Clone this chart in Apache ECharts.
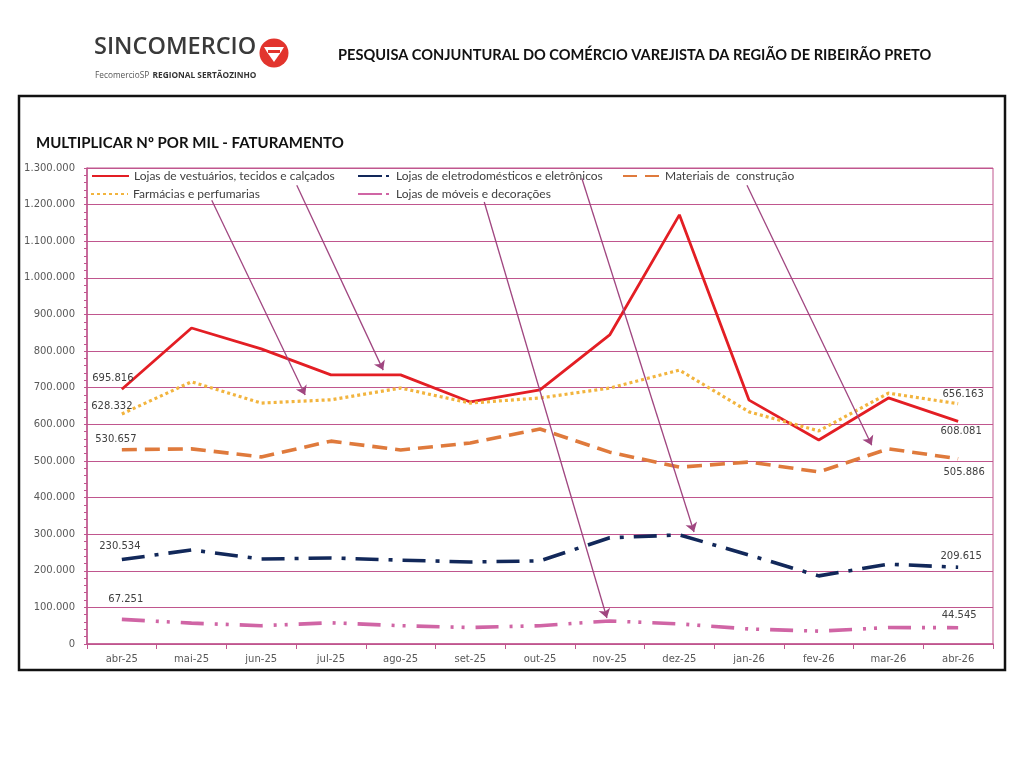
<!DOCTYPE html>
<html><head><meta charset="utf-8">
<script src="https://cdn.jsdelivr.net/npm/echarts@6/dist/echarts.min.js"></script>
<style>html,body{margin:0;padding:0;background:#fff}#c{width:1024px;height:768px}</style>
</head><body><div id="c"></div>
<script>
// ---- data ----
const months = ['abr-25','mai-25','jun-25','jul-25','ago-25','set-25','out-25','nov-25','dez-25','jan-26','fev-26','mar-26','abr-26'];
const seriesNames = ['Lojas de vestuários, tecidos e calçados','Lojas de eletrodomésticos e eletrônicos','Materiais de  construção','Farmácias e perfumarias','Lojas de móveis e decorações'];
const vestuario = [695816, 863000, 806000, 735000, 735000, 661000, 694000, 844000, 1172000, 666000, 557000, 672000, 608081];
const eletro    = [230534, 257000, 232000, 235000, 229000, 224000, 227000, 290000, 298000, 243000, 186000, 218000, 209615];
const materiais = [530657, 533000, 511000, 554000, 530000, 549000, 587000, 524000, 483000, 497000, 470000, 533000, 505886];
const farmacias = [628332, 716000, 658000, 667000, 699000, 658000, 672000, 699000, 748000, 634000, 582000, 685000, 656163];
const moveis    = [67251, 57000, 50000, 58000, 50000, 45000, 50000, 63000, 55000, 41000, 35000, 45000, 44545];
// annotation arrows: [startCategoryPos, startValue, endCategoryPos, endValue]
const arrowRefs = [
  [1.29, 1212000, 2.63, 680000],
  [2.51, 1253000, 3.75, 748000],
  [5.20, 1207000, 6.96, 71000],
  [6.60, 1272000, 8.21, 306000],
  [8.97, 1253000, 10.76, 543000]
];

function fmt(v){ return String(Math.round(v)).replace(/\B(?=(\d{3})+(?!\d))/g,'.'); }

const GRIDC = '#C0568E';
const LBL = {fontFamily:'DejaVu Sans', fontSize:10, color:'#404040'};

function withLabels(arr, first, last){
  return arr.map((v,i)=>{
    if(i===0) return {value:v, label:Object.assign({show:true, formatter:p=>fmt(p.value)}, LBL, first)};
    if(i===arr.length-1) return {value:v, label:Object.assign({show:true, formatter:p=>fmt(p.value)}, LBL, last)};
    return v;
  });
}

const styles = [
  {data:vestuario, color:'#E31E24', type:'solid', width:2.8, first:{position:'top', offset:[-9,-1]}, last:{position:'bottom', offset:[3,0]}},
  {data:eletro, color:'#12285A', type:[23,10,4,10], width:3.6, first:{position:'top', offset:[-2,-3]}, last:{position:'top', offset:[3,-1]}},
  {data:materiais, color:'#DF7A3C', type:[15,8], width:3.6, first:{position:'top', offset:[-6,0]}, last:{position:'bottom', offset:[6,4]}},
  {data:farmacias, color:'#F2B43E', type:[3,3], width:3.2, first:{position:'top', offset:[-10,2]}, last:{position:'top', offset:[5,1]}},
  {data:moveis, color:'#D065A5', type:[23,11,3,8,3,11], width:3.6, first:{position:'top', offset:[4,-10]}, last:{position:'top', offset:[1,-2]}}
];

const series = styles.map((s,i)=>({
  name: seriesNames[i], type:'line', symbol:'circle', symbolSize:0, showAllSymbol:true,
  itemStyle:{color:s.color},
  lineStyle:{color:s.color, width:s.width, type:s.type},
  data: withLabels(s.data, s.first, s.last),
  z: 3, animation:false
}));
series.push({
  type:'lines', coordinateSystem:'cartesian2d', xAxisIndex:1, yAxisIndex:0,
  symbol:['none','arrow'], symbolSize:9, silent:true, z:6, animation:false,
  lineStyle:{color:'#A04680', width:1.3, opacity:1, curveness:0},
  data: arrowRefs.map(a=>({coords:[[a[0],a[1]],[a[2],a[3]]]}))
});

const legendDefs = [
  {i:0, left:91, top:170, w:37, ls:{}},
  {i:1, left:357, top:170, w:33, ls:{type:[24,4,3,10]}},
  {i:2, left:622, top:170, w:37, ls:{type:[14,8]}},
  {i:3, left:90, top:188, w:37, ls:{}},
  {i:4, left:357, top:188, w:33, ls:{type:[24,4,3,10]}}
];
const legend = legendDefs.map(d=>({
  data:[seriesNames[d.i]], left:d.left, top:d.top, itemWidth:d.w, itemHeight:12, padding:0, itemGap:0,
  selectedMode:false, textStyle:{fontFamily:'Lato', fontSize:12, color:'#404040'},
  itemStyle:{opacity:0, borderWidth:0}, lineStyle:d.ls
}));

const chart = echarts.init(document.getElementById('c'));
chart.setOption({
  animation:false,
  backgroundColor:'#fff',
  grid:{left:87, right:31, top:168, bottom:124, show:true, borderColor:GRIDC, borderWidth:1, backgroundColor:'transparent'},
  legend: legend,
  xAxis:[{
    type:'category', data:months, boundaryGap:true,
    axisLine:{onZero:false, lineStyle:{color:GRIDC, width:1.5}},
    axisTick:{show:true, length:5, lineStyle:{color:GRIDC}},
    axisLabel:{fontFamily:'DejaVu Sans', fontSize:10, color:'#595959', margin:10}
  },{
    type:'value', min:-0.5, max:12.5, show:false,
    axisLine:{show:false, onZero:false}, splitLine:{show:false}, axisTick:{show:false}, axisLabel:{show:false}
  }],
  yAxis:{
    type:'value', min:0, max:1300000, interval:100000,
    axisLine:{show:true, onZero:false, lineStyle:{color:GRIDC, width:1.5}},
    axisTick:{show:true, length:3, lineStyle:{color:GRIDC}},
    minorTick:{show:true, splitNumber:5, length:3, lineStyle:{color:GRIDC}},
    splitLine:{lineStyle:{color:GRIDC, width:1}},
    axisLabel:{fontFamily:'DejaVu Sans', fontSize:10, color:'#595959', margin:12, formatter:v=>fmt(v)}
  },
  series: series,
  graphic:[
    {type:'rect', shape:{x:19, y:96, width:986, height:574}, style:{fill:'none', stroke:'#111', lineWidth:2.5}, z:-1},
    {type:'text', left:36, top:136, style:{text:'MULTIPLICAR Nº POR MIL - FATURAMENTO', font:'bold 15px Lato', fill:'#111'}},
    {type:'text', left:338, top:48, style:{text:'PESQUISA CONJUNTURAL DO COMÉRCIO VAREJISTA DA REGIÃO DE RIBEIRÃO PRETO', font:'bold 14.6px Lato', fill:'#111'}},
    {type:'text', left:94, top:35, style:{text:'SINCOMERCIO', font:'600 23.5px "Open Sans"', fill:'#3a3a3a'}},
    {type:'circle', shape:{cx:274, cy:53, r:14.5}, style:{fill:'#E2342D'}},
    {type:'polygon', shape:{points:[[264,47],[284,47],[281,52],[274,62],[267,52]]}, style:{fill:'#fff'}},
    {type:'rect', shape:{x:268, y:50, width:12, height:3}, style:{fill:'#E2342D'}},
    {type:'text', left:95, top:70, style:{text:'{a|FecomercioSP} {b|REGIONAL SERTÃOZINHO}', rich:{a:{font:'8.3px "Open Sans"', fill:'#555'}, b:{font:'bold 8.3px "Open Sans"', fill:'#333'}}}}
  ]
});
</script></body></html>
